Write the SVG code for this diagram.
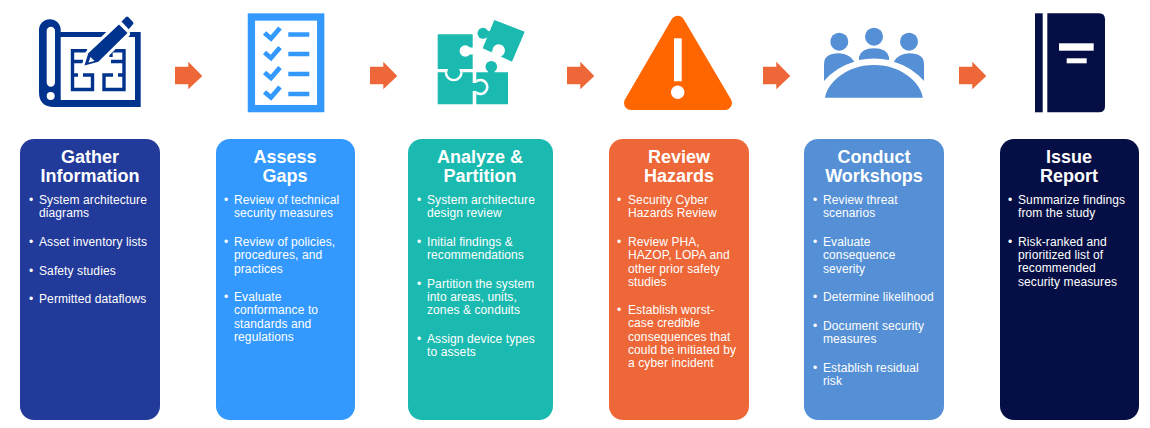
<svg xmlns="http://www.w3.org/2000/svg" width="1150" height="428" viewBox="0 0 1150 428">
<style>
text{font-family:"Liberation Sans",Arial,sans-serif;fill:#fff}
.t{font-size:18px;font-weight:700;text-anchor:middle}
.b{font-size:12px;letter-spacing:.1px}
.w{fill:#fff}
</style>
<defs>
<path id="arrow" d="M0 4.200H13.300V-.8L27.300 13.500L13.300 26.800V21.800H0Z" fill="#EE6738"/>
<path id="chk" d="M264.500 33L271 38.500L280 28" fill="none" stroke="#3399FF" stroke-width="4.800"/>
</defs>
<rect width="1150" height="428" fill="#fff"/>
<g id="connectors">
<use href="#arrow" x="175" y="62.500"/>
<use href="#arrow" x="370" y="62.500"/>
<use href="#arrow" x="567" y="62.500"/>
<use href="#arrow" x="763" y="62.500"/>
<use href="#arrow" x="959" y="62.500"/>
</g>
<g id="icon-gather">
<path fill="#00338D" fill-rule="evenodd" d="M39 30A10.850 10.850 0 0 1 60.700 30V32H140.700V107H54Q39 107 39 92ZM60.700 37V100H135V37ZM50.850 26.700A4.150 4.150 0 0 0 46.700 30.850V82.550A4.150 4.150 0 0 0 55 82.550V30.850A4.150 4.150 0 0 0 50.850 26.700Z"/>
<circle cx="50.700" cy="96" r="4" class="w"/>
<path d="M87 50.800H72.500V89.500H92.500V75H83M72.500 75H78M72.500 61.500H83M108 50.800H124V89.500H104V75H113M118 75H124M124 61.500H111M111 50.800V57" fill="none" stroke="#00338D" stroke-width="3.400"/>
<path d="M88.300 53.300L118 25L127 34L98.300 61.700L85 65Z" class="w" stroke="#fff" stroke-width="6" stroke-linejoin="round"/>
<path d="M121 22L126.700 17L133.300 23.500L128.200 30Z" class="w" stroke="#fff" stroke-width="6" stroke-linejoin="round"/>
<path d="M88.300 53.300L119 24.500L127.500 33L98.300 61.700L84.500 65.500Z" fill="#00338D"/>
<path d="M90.500 57L94.500 61L88.500 62.500Z" class="w"/>
<path d="M121.500 21.500L126 17Q127 16 128.200 17L133 22Q134 23 133 24.200L128.700 29.200Z" fill="#00338D"/>
</g>
<g id="icon-gaps">
<rect x="251.400" y="17" width="69.300" height="91.600" fill="#fff" stroke="#3399FF" stroke-width="7.300"/>
<use href="#chk"/>
<use href="#chk" y="19.500"/>
<use href="#chk" y="39.500"/>
<use href="#chk" y="59"/>
<path d="M288.300 34.500H309.300M288.300 54H309.300M288.300 74H309.300M288.300 94H309.300" stroke="#3399FF" stroke-width="4.500"/>
</g>
<g id="icon-analyze">
<path d="M437.700 34.300H472.700V69H437.700Z M437.700 72.300H472.700V104.300H437.700Z M476.300 72.300H508V104.300H476.300Z M494.300 20L524.700 31.700L512 61.700L482.700 48.300Z" fill="#1ABAB0"/>
<circle cx="483" cy="33.300" r="5.500" fill="#1ABAB0"/>
<path d="M483 31H490V37H483Z" fill="#1ABAB0"/>
<circle cx="465.300" cy="51" r="5.700" class="w"/><rect x="465.300" y="47.500" width="8" height="7" class="w"/>
<circle cx="498.700" cy="50.500" r="6.200" class="w"/><path d="M494 50L503 50L501 57L491 52Z" class="w"/>
<path d="M444.700 72.300A9 9 0 0 0 462.700 72.300Z" class="w"/>
<circle cx="453.700" cy="72.500" r="6.500" fill="#1ABAB0"/><rect x="449" y="68" width="9" height="5" fill="#1ABAB0"/>
<path d="M476.300 79.700A8.300 8.300 0 1 1 476.300 94.300Z" class="w"/>
<circle cx="480.300" cy="87" r="5.700" fill="#1ABAB0"/><rect x="472" y="83" width="6" height="8" fill="#1ABAB0"/>
<circle cx="491.300" cy="66.700" r="5.800" fill="#1ABAB0"/><rect x="488" y="68" width="6.500" height="5" fill="#1ABAB0"/>
</g>
<g id="icon-hazards">
<path d="M677.700 22.700L725 103H631Z" fill="#FF6600" stroke="#FF6600" stroke-width="14" stroke-linejoin="round"/>
<rect x="674" y="38.300" width="7.700" height="43" class="w"/>
<circle cx="677.700" cy="92.300" r="6.700" class="w"/>
</g>
<g id="icon-workshops" fill="#5590D6">
<circle cx="839.300" cy="41.700" r="9"/><circle cx="874" cy="36.700" r="9"/><circle cx="909" cy="41.700" r="9"/>
<path d="M824 81V64Q824 53.300 839 53.300Q850 54 854.300 61.700Q836 67 824 81Z"/>
<path d="M859 60V57Q861 48.300 874 48.300Q887 48.300 889 57V60Q874 57 859 60Z"/>
<path d="M893.700 61.700Q898 54 909 53.300Q924 53.300 924 64V81Q912 67 893.700 61.700Z"/>
<path d="M825 97.700C827 84 845 65 874 65C903 65 921 84 922.700 97.700Z"/>
</g>
<g id="icon-report" fill="#060F45">
<rect x="1035" y="13.300" width="7.700" height="99"/>
<path d="M1047.300 13.300H1099Q1105 13.300 1105 19.300V106.300Q1105 112.300 1099 112.300H1047.300Z"/>
<rect x="1059" y="43.300" width="34.700" height="7.400" class="w"/>
<rect x="1066.700" y="58.300" width="20" height="5" class="w"/>
</g>
<g id="gather">
<rect x="20" y="139" width="140" height="281" rx="14" fill="#223A9A"/>
<text class="t" x="90" y="163">Gather</text><text class="t" x="90" y="182">Information</text>
<text class="b" x="29" y="204">•</text><text class="b" x="39" y="204">System architecture</text><text class="b" x="39" y="217">diagrams</text>
<text class="b" x="29" y="246">•</text><text class="b" x="39" y="246">Asset inventory lists</text>
<text class="b" x="29" y="275">•</text><text class="b" x="39" y="275">Safety studies</text>
<text class="b" x="29" y="303">•</text><text class="b" x="39" y="303">Permitted dataflows</text>
</g>
<g id="assess">
<rect x="216" y="139" width="139" height="281" rx="14" fill="#3399FF"/>
<text class="t" x="285" y="163">Assess</text><text class="t" x="285" y="182">Gaps</text>
<text class="b" x="224" y="204">•</text><text class="b" x="234" y="204">Review of technical</text><text class="b" x="234" y="217">security measures</text>
<text class="b" x="224" y="246">•</text><text class="b" x="234" y="246">Review of policies,</text><text class="b" x="234" y="259">procedures, and</text><text class="b" x="234" y="273">practices</text>
<text class="b" x="224" y="301">•</text><text class="b" x="234" y="301">Evaluate</text><text class="b" x="234" y="314">conformance to</text><text class="b" x="234" y="328">standards and</text><text class="b" x="234" y="341">regulations</text>
</g>
<g id="analyze">
<rect x="408" y="139" width="145" height="281" rx="14" fill="#1ABAB0"/>
<text class="t" x="480" y="163">Analyze &amp;</text><text class="t" x="480" y="182">Partition</text>
<text class="b" x="417" y="204">•</text><text class="b" x="427" y="204">System architecture</text><text class="b" x="427" y="217">design review</text>
<text class="b" x="417" y="246">•</text><text class="b" x="427" y="246">Initial findings &amp;</text><text class="b" x="427" y="259">recommendations</text>
<text class="b" x="417" y="288">•</text><text class="b" x="427" y="288">Partition the system</text><text class="b" x="427" y="301">into areas, units,</text><text class="b" x="427" y="314">zones &amp; conduits</text>
<text class="b" x="417" y="343">•</text><text class="b" x="427" y="343">Assign device types</text><text class="b" x="427" y="356">to assets</text>
</g>
<g id="review">
<rect x="609" y="139" width="140" height="281" rx="14" fill="#EE6738"/>
<text class="t" x="679" y="163">Review</text><text class="t" x="679" y="182">Hazards</text>
<text class="b" x="617" y="204">•</text><text class="b" x="628" y="204">Security Cyber</text><text class="b" x="628" y="217">Hazards Review</text>
<text class="b" x="617" y="246">•</text><text class="b" x="628" y="246">Review PHA,</text><text class="b" x="628" y="259">HAZOP, LOPA and</text><text class="b" x="628" y="273">other prior safety</text><text class="b" x="628" y="286">studies</text>
<text class="b" x="617" y="314">•</text><text class="b" x="628" y="314">Establish worst-</text><text class="b" x="628" y="327">case credible</text><text class="b" x="628" y="341">consequences that</text><text class="b" x="628" y="354">could be initiated by</text><text class="b" x="628" y="367">a cyber incident</text>
</g>
<g id="conduct">
<rect x="804" y="139" width="140" height="281" rx="14" fill="#5590D6"/>
<text class="t" x="874" y="163">Conduct</text><text class="t" x="874" y="182">Workshops</text>
<text class="b" x="813" y="204">•</text><text class="b" x="823" y="204">Review threat</text><text class="b" x="823" y="217">scenarios</text>
<text class="b" x="813" y="246">•</text><text class="b" x="823" y="246">Evaluate</text><text class="b" x="823" y="259">consequence</text><text class="b" x="823" y="273">severity</text>
<text class="b" x="813" y="301">•</text><text class="b" x="823" y="301">Determine likelihood</text>
<text class="b" x="813" y="330">•</text><text class="b" x="823" y="330">Document security</text><text class="b" x="823" y="343">measures</text>
<text class="b" x="813" y="372">•</text><text class="b" x="823" y="372">Establish residual</text><text class="b" x="823" y="385">risk</text>
</g>
<g id="issue">
<rect x="1000" y="139" width="139" height="281" rx="14" fill="#060F45"/>
<text class="t" x="1069" y="163">Issue</text><text class="t" x="1069" y="182">Report</text>
<text class="b" x="1008" y="204">•</text><text class="b" x="1018" y="204">Summarize findings</text><text class="b" x="1018" y="217">from the study</text>
<text class="b" x="1008" y="246">•</text><text class="b" x="1018" y="246">Risk-ranked and</text><text class="b" x="1018" y="259">prioritized list of</text><text class="b" x="1018" y="272">recommended</text><text class="b" x="1018" y="286">security measures</text>
</g>
</svg>
